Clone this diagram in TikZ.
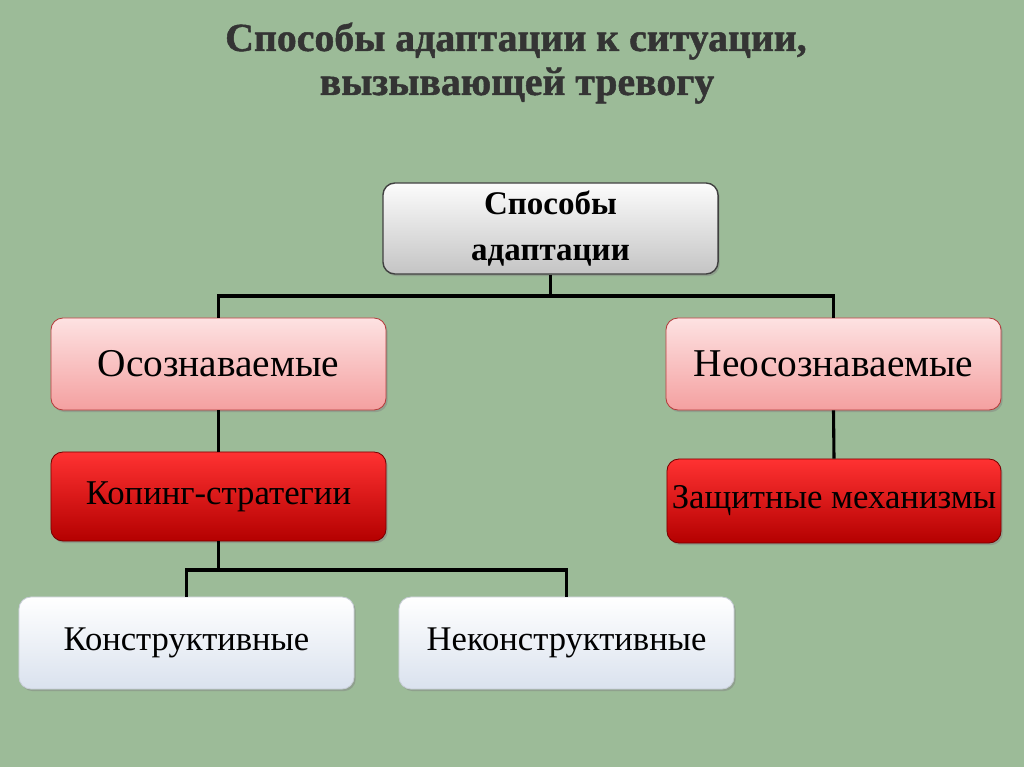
\documentclass[tikz,border=0pt]{standalone}
\usepackage{fontspec}
\setmainfont{Liberation Serif}
\newfontfamily\titlefont[BoldFeatures={FakeBold=1.2}]{Liberation Serif}
\usetikzlibrary{shadows}
\definecolor{bg}{RGB}{156,187,152}
\definecolor{titlecol}{RGB}{52,52,52}
\definecolor{pinktop}{RGB}{253,226,226}
\definecolor{pinkbot}{RGB}{244,160,160}
\definecolor{pinkline}{RGB}{180,60,60}
\definecolor{redtop}{RGB}{255,50,50}
\definecolor{redbot}{RGB}{180,0,0}
\definecolor{redline}{RGB}{120,0,0}
\definecolor{graytop}{RGB}{252,252,252}
\definecolor{graybot}{RGB}{196,196,196}
\definecolor{bluetop}{RGB}{255,255,255}
\definecolor{bluebot}{RGB}{218,226,238}
\definecolor{blueline}{RGB}{200,205,215}
\tikzset{
  box/.style={rounded corners=0.3cm, minimum width=8.375cm, align=center, inner sep=0pt,
    drop shadow={shadow xshift=1.2pt, shadow yshift=-1.5pt, opacity=0.45}},
  topbox/.style={box, draw=black!75, line width=1pt, top color=graytop, bottom color=graybot,
    minimum height=2.275cm, font=\fontsize{23.5}{33}\selectfont\bfseries},
  pinkbox/.style={box, draw=pinkline, line width=0.6pt, top color=pinktop, bottom color=pinkbot,
    minimum height=2.3cm, font=\fontsize{28}{32}\selectfont},
  redbox/.style={box, draw=redline, line width=0.6pt, top color=redtop, bottom color=redbot,
    font=\fontsize{24.7}{28}\selectfont},
  whitebox/.style={box, draw=blueline, line width=0.6pt, top color=bluetop, bottom color=bluebot,
    minimum height=2.3cm, font=\fontsize{24.6}{28}\selectfont},
  conn/.style={line width=2.2pt, black},
  title/.style={font=\titlefont\fontsize{28.3}{32}\selectfont\bfseries, text=titlecol, align=center}
}
\begin{document}
\begin{tikzpicture}[x=0.025cm, y=-0.025cm]
\fill[bg] (0,0) rectangle (1024,767);
\useasboundingbox (0,0) rectangle (1024,767);

\node[title, anchor=base] (t1) at (516,51) {Способы адаптации к ситуации,};
\node[title, anchor=base] (t2) at (517,95) {вызывающей тревогу};

\node[topbox] (top) at (550.5,228.5) {Способы\\адаптации};
\node[pinkbox] (osoz) at (218.5,364) {Осознаваемые};
\node[pinkbox] (neosoz) at (833.5,364) {Неосознаваемые};
\node[redbox, minimum height=2.225cm] (koping) at (218.5,496.5) {Копинг-стратегии};
\node[redbox, minimum height=2.1cm, minimum width=8.35cm] (zash) at (834,501) {Защитные механизмы};
\node[whitebox] (konstr) at (186.5,643) {Конструктивные};
\node[whitebox] (nekonstr) at (566.5,643) {Неконструктивные};

\coordinate (bar1) at (550.5,296);
\coordinate (bar2) at (218.5,570);

\draw[conn] (top.south) -- (bar1);
\draw[conn] (osoz.north) |- (bar1) -| (neosoz.north);
\draw[conn] (osoz.south) -- (koping.north);
\draw[conn] (neosoz.south) -- (zash.north);
\draw[conn] (koping.south) -- (bar2);
\draw[conn] (konstr.north) |- (bar2) -| (nekonstr.north);
\end{tikzpicture}
\end{document}
